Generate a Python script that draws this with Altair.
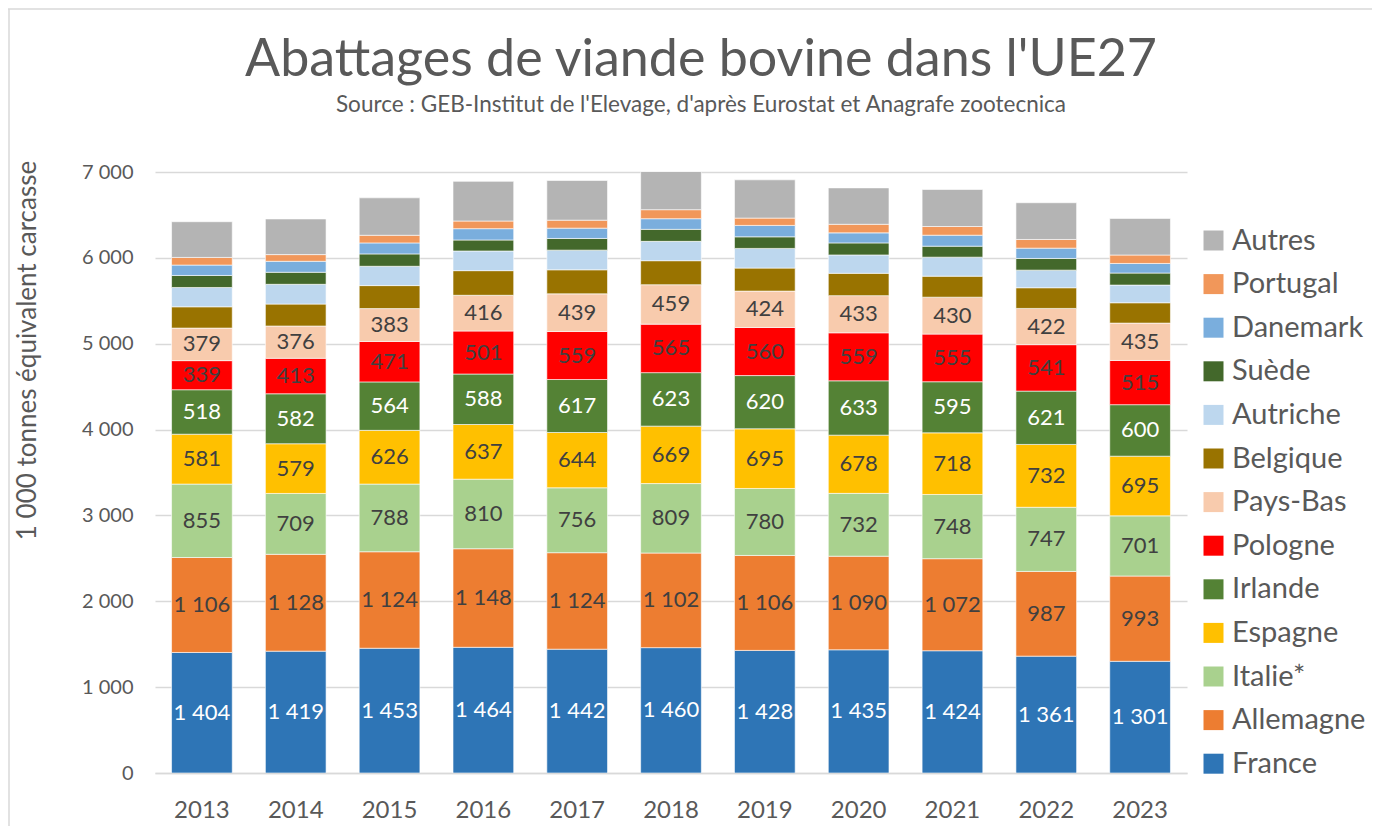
import altair as alt
import pandas as pd

years = [2013, 2014, 2015, 2016, 2017, 2018, 2019, 2020, 2021, 2022, 2023]

france    = [1404, 1419, 1453, 1464, 1442, 1460, 1428, 1435, 1424, 1361, 1301]
allemagne = [1106, 1128, 1124, 1148, 1124, 1102, 1106, 1090, 1072, 987, 993]
italie    = [855, 709, 788, 810, 756, 809, 780, 732, 748, 747, 701]
espagne   = [581, 579, 626, 637, 644, 669, 695, 678, 718, 732, 695]
irlande   = [518, 582, 564, 588, 617, 623, 620, 633, 595, 621, 600]
pologne   = [339, 413, 471, 501, 559, 565, 560, 559, 555, 541, 515]
paysbas   = [379, 376, 383, 416, 439, 459, 424, 433, 430, 422, 435]
belgique  = [248, 256, 268, 287, 280, 280, 268, 260, 245, 241, 237]
autriche  = [225, 230, 225, 229, 229, 225, 229, 214, 221, 205, 206]
suede     = [140, 140, 144, 128, 136, 140, 135, 140, 128, 136, 140]
danemark  = [121, 128, 128, 132, 120, 124, 133, 117, 128, 120, 112]
portugal  = [89, 78, 89, 89, 93, 105, 85, 100, 101, 101, 98]
autres    = [416, 415, 436, 462, 462, 445, 446, 424, 431, 428, 426]

countries = ["France", "Allemagne", "Italie*", "Espagne", "Irlande", "Pologne",
             "Pays-Bas", "Belgique", "Autriche", "Suède", "Danemark", "Portugal", "Autres"]
series = [france, allemagne, italie, espagne, irlande, pologne, paysbas,
          belgique, autriche, suede, danemark, portugal, autres]
colors = ["#2E75B6", "#ED7D31", "#A9D18E", "#FFC000", "#548235", "#FF0000",
          "#F8CBAD", "#997300", "#BDD7EE", "#43682B", "#7AAEDD", "#F1975A", "#B4B4B4"]
labelled = countries[:7]
white_labels = ["France", "Irlande"]

title_text = "Abattages de viande bovine dans l'UE27"
subtitle_text = "Source : GEB-Institut de l'Elevage, d'après Eurostat et Anagrafe zootecnica"

rows = []
for i, (c, vals) in enumerate(zip(countries, series)):
    for y, v in zip(years, vals):
        rows.append({"year": str(y), "country": c, "idx": i, "value": v})
df = pd.DataFrame(rows)

FONT = "Lato"
GREY = "#595959"
YTITLE = "1 000 tonnes équivalent carcasse"

xenc = alt.X("year:N",
             scale=alt.Scale(paddingInner=0.353, paddingOuter=0.1765),
             axis=alt.Axis(title=None, labelAngle=0, labelFontSize=24, labelFont=FONT,
                           labelColor=GREY, labelPadding=25, ticks=False,
                           domain=True, domainColor="#D9D9D9", domainWidth=1.5))

yaxis = alt.Axis(values=list(range(0, 7001, 1000)),
                 labelExpr="replace(format(datum.value, ','), ',', ' ')",
                 labelFontSize=20, labelFont=FONT, labelColor=GREY, labelPadding=22,
                 ticks=False, domain=False, grid=True, gridColor="#D9D9D9", gridWidth=1.5,
                 titleFontSize=26, titleFont=FONT, titleColor=GREY, titleFontWeight="normal",
                 titleX=-128, titleY=178, titleAngle=270, titleAlign="center",
                 titleBaseline="middle")

base = alt.Chart(df)

bars = base.mark_bar(clip=True, stroke="white", strokeWidth=0.6).encode(
    x=xenc,
    y=alt.Y("value:Q", stack="zero", title=YTITLE,
            scale=alt.Scale(domain=[0, 7000], nice=False), axis=yaxis),
    color=alt.Color("country:N",
                    scale=alt.Scale(domain=countries[::-1], range=colors[::-1]),
                    legend=alt.Legend(orient="none", legendX=1044, legendY=54, title=None,
                                      labelFontSize=29, labelFont=FONT, labelColor=GREY,
                                      symbolType="square", symbolSize=400,
                                      symbolStrokeWidth=0, rowPadding=13.6,
                                      labelOffset=4, padding=0)),
    order=alt.Order("idx:Q", sort="ascending"),
)

labels = base.transform_stack(
    stack="value", groupby=["year"], sort=[alt.SortField("idx", "ascending")],
    as_=["y0", "y1"]
).transform_filter(
    alt.FieldOneOfPredicate(field="country", oneOf=labelled)
).transform_calculate(
    mid="(datum.y0 + datum.y1) / 2",
    lbl="replace(format(datum.value, ','), ',', ' ')"
).mark_text(fontSize=22, font=FONT).encode(
    x=xenc,
    y=alt.Y("mid:Q", title=YTITLE),
    text="lbl:N",
    color=alt.condition(alt.FieldOneOfPredicate(field="country", oneOf=white_labels),
                        alt.value("white"), alt.value("#404040")),
)

one = pd.DataFrame({"title": [title_text], "subtitle": [subtitle_text]})
title_mark = alt.Chart(one).mark_text(
    font=FONT, fontSize=52, color=GREY, align="center", baseline="alphabetic"
).encode(x=alt.value(546), y=alt.value(-96), text="title:N")
subtitle_mark = alt.Chart(one).mark_text(
    font=FONT, fontSize=22.5, color=GREY, align="center", baseline="alphabetic"
).encode(x=alt.value(546), y=alt.value(-60), text="subtitle:N")

top_rule = alt.Chart(one).mark_rule(color="#D9D9D9", strokeWidth=1.5).encode(
    x=alt.value(-147), x2=alt.value(1217), y=alt.value(-163))
left_rule = alt.Chart(one).mark_rule(color="#D9D9D9", strokeWidth=1.5).encode(
    x=alt.value(-146), y=alt.value(-163), y2=alt.value(654))

chart = alt.layer(bars, labels, title_mark, subtitle_mark, top_rule, left_rule).properties(
    width=1032, height=601,
    autosize=alt.AutoSizeParams(type="none"),
    padding={"left": 147, "top": 164, "right": 185, "bottom": 53},
).configure_view(stroke=None)

chart.save("out.html", embed_options={"renderer": "svg", "actions": False})
